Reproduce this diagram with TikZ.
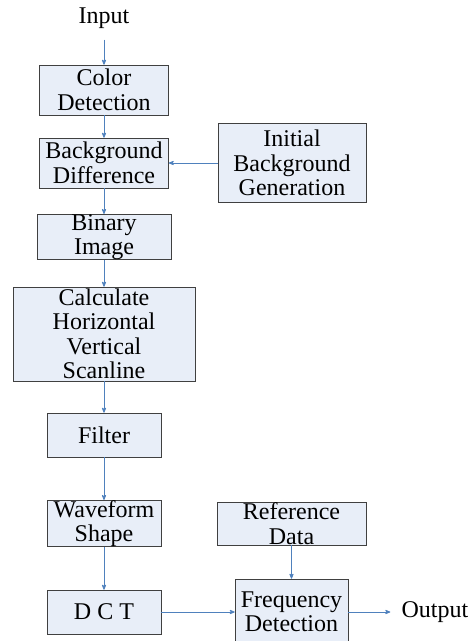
\documentclass[tikz,border=0pt]{standalone}
\usepackage{fontspec}
\setmainfont{Liberation Serif}
\usetikzlibrary{arrows,positioning}

\definecolor{boxfill}{RGB}{232,238,248}
\definecolor{boxline}{RGB}{64,64,64}
\definecolor{flowblue}{RGB}{79,129,189}

\begin{document}
\begin{tikzpicture}[->,>=stealth',x=1pt,y=-1pt,node distance=23pt,
                    semithick]
  \tikzstyle{every node}=[font=\fontsize{24}{24.5}\selectfont]
  \tikzstyle{every edge}=[draw,flowblue,thick]
  \tikzstyle{block}=[rectangle, draw=boxline, fill=boxfill, align=center, inner sep=0pt]

  \useasboundingbox (0,0) rectangle (473,641);

  % main column
  \node[inner sep=0pt] (in) at (104,18) {Input};
  \node[block, minimum width=129pt, minimum height=50pt] (color) at (104,90)  {Color\\Detection};
  \node[block, minimum width=129pt, minimum height=50pt] (diff)  at (104,163) {Background\\Difference};
  \node[block, minimum width=134pt, minimum height=44pt] (bin)   at (104,237) {Binary\\Image};
  \node[block, minimum width=182pt, minimum height=94pt] (scan)  at (104,334) {Calculate\\Horizontal\\Vertical\\Scanline};
  \node[block, minimum width=114pt, minimum height=44pt] (filt)  at (104,435) {Filter};
  \node[block, minimum width=114pt, minimum height=43pt] (wave)  at (104,523.5) {Waveform\\Shape};
  \node[block, minimum width=114pt, minimum height=44pt] (dct)   at (104,612) {D C T};

  % right side
  \node[block, minimum width=148pt, minimum height=79pt] (init) at (292,163)   {Initial\\Background\\Generation};
  \node[block, minimum width=149pt, minimum height=43pt] (ref)  at (291.5,523.5) {Reference\\Data};
  \node[block, minimum width=113pt, minimum height=66pt] (freq) at (291.5,612) {Frequency\\Detection};
  \node[inner sep=0pt] (out) [right=53pt of freq] {Output};

  \path (in)    edge [shorten <=11pt] (color)
        (color) edge (diff)
        (init)  edge (diff)
        (diff)  edge (bin)
        (bin)   edge (scan)
        (scan)  edge (filt)
        (filt)  edge (wave)
        (wave)  edge (dct)
        (dct)   edge (freq)
        (ref)   edge (freq)
        (freq)  edge [shorten >=11pt] (out)
  ;
\end{tikzpicture}
\end{document}
